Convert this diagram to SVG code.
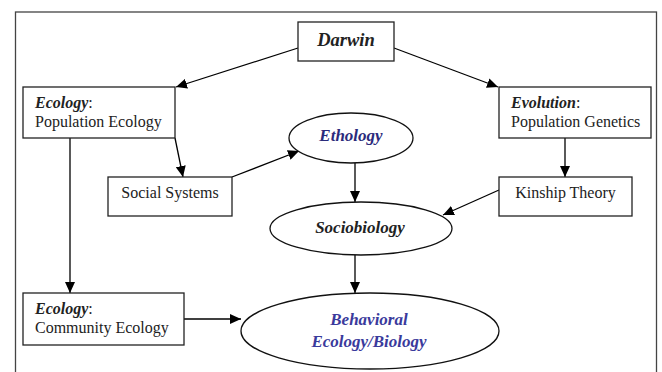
<svg xmlns="http://www.w3.org/2000/svg" width="662" height="372" viewBox="0 0 662 372" font-family="'Liberation Serif', 'Times New Roman', Times, serif">
<defs>
<marker id="ah" markerUnits="userSpaceOnUse" markerWidth="12" markerHeight="10" refX="11" refY="5" orient="auto">
<path d="M0,0 L11,5 L0,10 Z" fill="#000"/>
</marker>
<style>
.box{fill:#fff;stroke:#222;stroke-width:1.3}
.ell{fill:#fff;stroke:#111;stroke-width:1.3}
text{font-family:'Liberation Serif','Times New Roman',Times,serif}
.t{font-size:16px;fill:#222}
.bi{font-weight:bold;font-style:italic}
.big{font-size:17px;font-weight:bold;font-style:italic}
.con{stroke:#000;stroke-width:1.3;fill:none;marker-end:url(#ah)}
</style>
</defs>
<rect width="662" height="372" fill="#fff"/>
<rect x="15.5" y="12" width="641" height="400" fill="none" stroke="#444" stroke-width="1.3"/>
<g id="connectors">
<line class="con" x1="298" y1="48" x2="176" y2="87"/>
<line class="con" x1="394" y1="48" x2="498" y2="87"/>
<line class="con" x1="70" y1="138" x2="70" y2="293"/>
<line class="con" x1="175" y1="138" x2="183" y2="177"/>
<line class="con" x1="232" y1="177" x2="299" y2="151"/>
<line class="con" x1="355" y1="163" x2="355" y2="202"/>
<line class="con" x1="565" y1="138" x2="565" y2="177"/>
<line class="con" x1="499" y1="190" x2="443" y2="215"/>
<line class="con" x1="355" y1="255" x2="355" y2="293"/>
<line class="con" x1="184" y1="319" x2="241" y2="319"/>
</g>
<g id="darwin">
<rect class="box" x="298" y="22" width="96" height="39"/>
<text class="big" x="346" y="46" text-anchor="middle" fill="#222" style="font-size:18.5px">Darwin</text>
</g>
<g id="ecology-population">
<rect class="box" x="23" y="87" width="152" height="51"/>
<text class="t" x="35" y="108"><tspan class="bi">Ecology</tspan>:</text>
<text class="t" x="35" y="127">Population Ecology</text>
</g>
<g id="evolution">
<rect class="box" x="499" y="87" width="152" height="51"/>
<text class="t" x="511" y="108"><tspan class="bi">Evolution</tspan>:</text>
<text class="t" x="511" y="127">Population Genetics</text>
</g>
<g id="ethology">
<ellipse class="ell" cx="351" cy="138" rx="62" ry="25"/>
<text class="big" x="351" y="141" text-anchor="middle" fill="#2b2b7c">Ethology</text>
</g>
<g id="social-systems">
<rect class="box" x="108" y="177" width="124" height="39"/>
<text class="t" x="170" y="198" text-anchor="middle">Social Systems</text>
</g>
<g id="kinship-theory">
<rect class="box" x="499" y="177" width="133" height="39"/>
<text class="t" x="565.5" y="198" text-anchor="middle">Kinship Theory</text>
</g>
<g id="sociobiology">
<ellipse class="ell" cx="361" cy="228.5" rx="91" ry="26.5"/>
<text class="big" x="360" y="233" text-anchor="middle" fill="#222">Sociobiology</text>
</g>
<g id="ecology-community">
<rect class="box" x="23" y="293" width="161" height="52"/>
<text class="t" x="35" y="314"><tspan class="bi">Ecology</tspan>:</text>
<text class="t" x="35" y="333">Community Ecology</text>
</g>
<g id="behavioral-ecology">
<ellipse class="ell" cx="370" cy="331" rx="129" ry="38"/>
<text class="big" x="369" y="325" text-anchor="middle" fill="#3a3a9c">Behavioral</text>
<text class="big" x="369" y="347" text-anchor="middle" fill="#3a3a9c">Ecology/Biology</text>
</g>
</svg>
